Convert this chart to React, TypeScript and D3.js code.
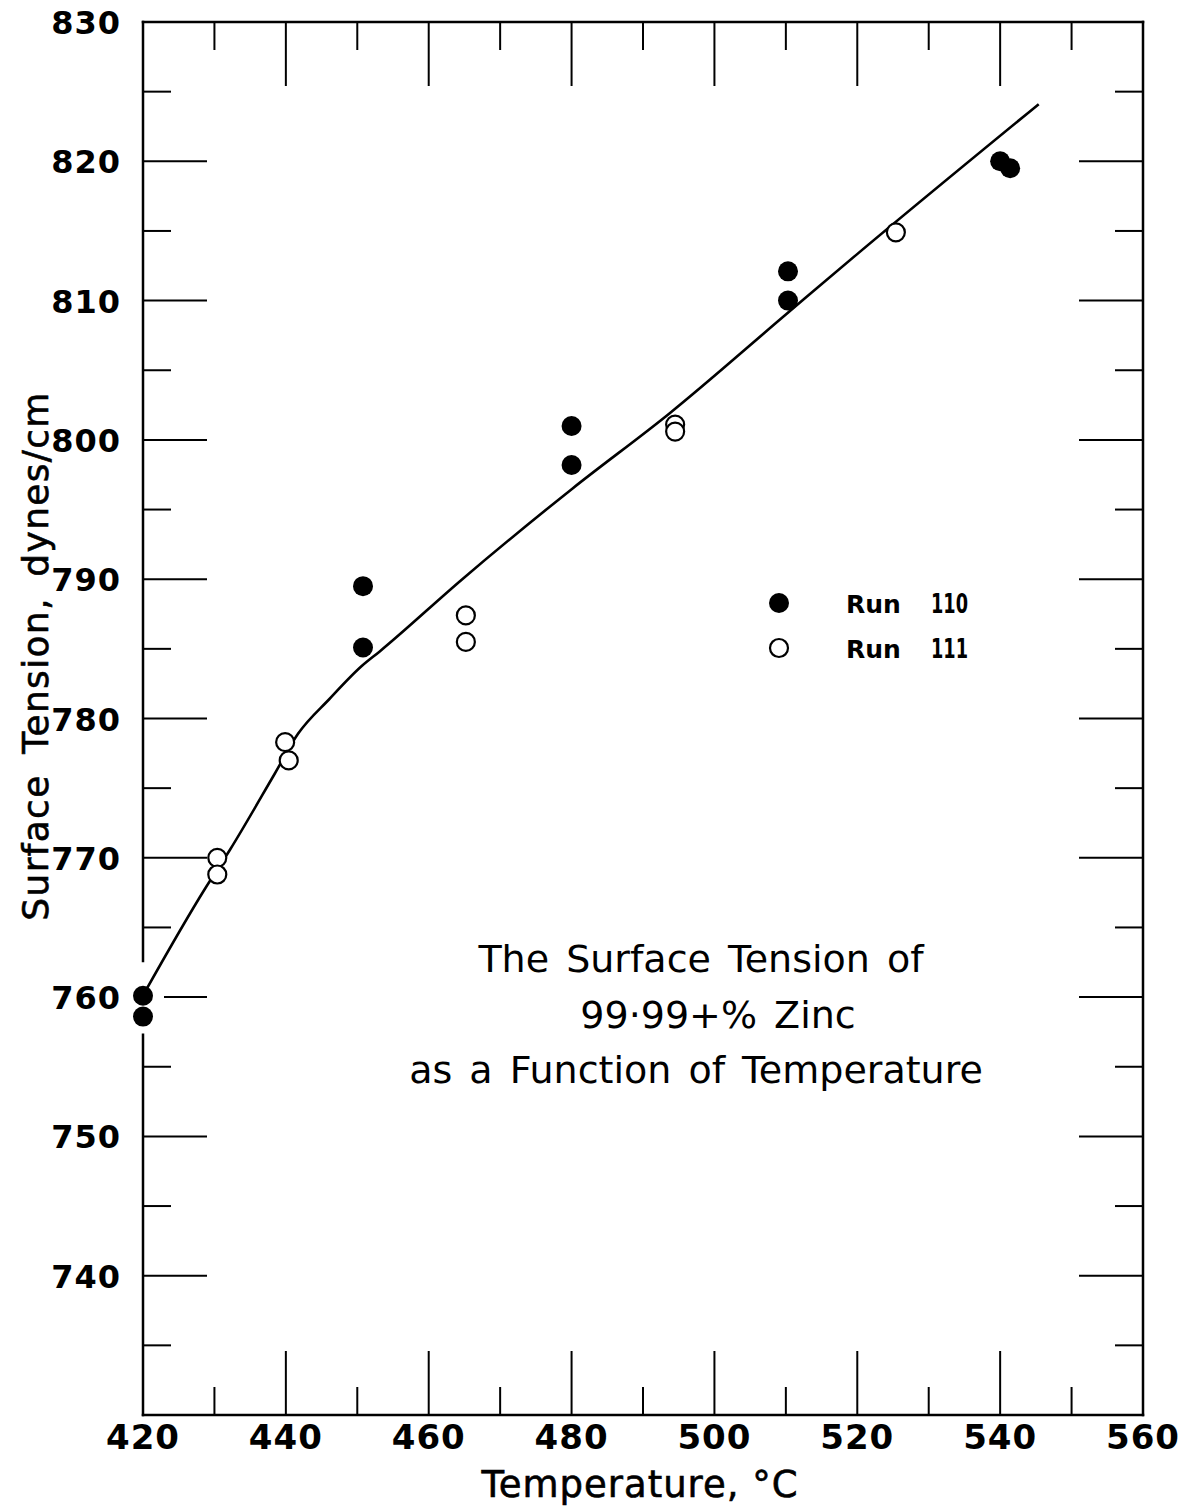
import React from "react";
import * as d3 from "d3";

// values
const run110Temp = [420, 420, 450.8, 450.8, 480, 480, 510.3, 510.3, 540, 541.4];
const run110Tension = [760.1, 758.6, 789.5, 785.1, 801.0, 798.2, 812.1, 810.0, 820.0, 819.5];

const run111Temp = [430.4, 430.4, 439.9, 440.4, 465.2, 465.2, 494.5, 494.5, 525.4];
const run111Tension = [770.0, 768.8, 778.3, 777.0, 787.4, 785.5, 801.1, 800.6, 814.9];

// hand-drawn fitted curve
const fitTemp = [420.3, 428.7, 432.2, 438.4, 441.7, 446.1, 450.7, 453.1, 464.7, 480.1, 493.7, 510.0, 519.9, 545.4];
const fitTension = [760.4, 767.8, 770.6, 776.0, 778.9, 781.4, 783.8, 784.8, 790.0, 796.5, 801.9, 809.0, 813.3, 824.1];

const xTickLabels = [420, 440, 460, 480, 500, 520, 540, 560];
const yTickLabels = [740, 750, 760, 770, 780, 790, 800, 810, 820, 830];

const legendItems = [
  { label: "110", filled: true },
  { label: "111", filled: false },
];

const titleLines = ["The Surface Tension of", "99·99+% Zinc", "as a Function of Temperature"];

const W = 1181;
const H = 1510;
const left = 143;
const right = 1143;
const top = 22;
const bottom = 1415;
const MAJOR = 63;
const MINOR = 27;
const R = 10;

export default function App() {
  const x = d3.scaleLinear().domain([420, 560]).range([left, right]);
  const y = d3.scaleLinear().domain([730, 830]).range([bottom, top]);

  const xMinor = d3.range(420, 561, 10);
  const yMinor = d3.range(730, 831, 5);

  const fit = d3
    .line<number>()
    .x((d) => x(fitTemp[d]))
    .y((d) => y(fitTension[d]))
    .curve(d3.curveMonotoneX)(fitTemp.map((_, i) => i));

  // the scan leaves the left frame broken behind the 760 label
  const gapLo = 757.3;
  const gapHi = 762.6;

  const font = "'DejaVu Sans', Verdana, sans-serif";

  return (
    <svg
      width={W}
      height={H}
      style={{ position: "absolute", left: 0, top: 0, background: "#fff" }}
      fontFamily={font}
    >
      <g stroke="#000" fill="none" strokeLinecap="square">
        <line x1={left} x2={right} y1={top} y2={top} strokeWidth={2.5} />
        <line x1={left} x2={right} y1={bottom} y2={bottom} strokeWidth={2.5} />
        <line x1={right} x2={right} y1={top} y2={bottom} strokeWidth={2.5} />
        <line x1={left} x2={left} y1={top} y2={y(gapHi)} strokeWidth={2.5} />
        <line x1={left} x2={left} y1={y(gapLo)} y2={bottom} strokeWidth={2.5} />

        {xMinor
          .filter((t) => t > 420 && t < 560)
          .map((t) => {
            const len = t % 20 === 0 ? MAJOR : MINOR;
            return (
              <g key={"xt" + t} strokeWidth={2}>
                <line x1={x(t)} x2={x(t)} y1={bottom} y2={bottom - len} />
                <line x1={x(t)} x2={x(t)} y1={top} y2={top + len} />
              </g>
            );
          })}
        {yMinor
          .filter((v) => v > 730 && v < 830)
          .map((v) => {
            const len = v % 10 === 0 ? MAJOR : MINOR;
            const start = v === 760 ? left + 22 : left;
            return (
              <g key={"yt" + v} strokeWidth={2}>
                <line x1={start} x2={left + len} y1={y(v)} y2={y(v)} />
                <line x1={right} x2={right - len} y1={y(v)} y2={y(v)} />
              </g>
            );
          })}
      </g>

      <g fontSize={34} fontWeight="bold" fill="#000">
        {xTickLabels.map((t) => (
          <text key={"xl" + t} x={x(t)} y={1449} textAnchor="middle" letterSpacing={1}>
            {t}
          </text>
        ))}
      </g>
      <g fontSize={32} fontWeight="bold" fill="#000">
        {yTickLabels.map((v) => (
          <text key={"yl" + v} x={121} y={y(v) + 12} textAnchor="end" letterSpacing={1}>
            {v}
          </text>
        ))}
      </g>

      <text x={640} y={1497} fontSize={37} textAnchor="middle" fill="#000" letterSpacing={1} stroke="#000" strokeWidth={0.6}>
        Temperature, °C
      </text>
      <text
        transform={`translate(48, 656) rotate(-90)`}
        fontSize={36}
        textAnchor="middle"
        fill="#000"
        letterSpacing={1.3}
        wordSpacing={8}
        stroke="#000"
        strokeWidth={0.6}
      >
        Surface Tension, dynes/cm
      </text>

      <path d={fit || ""} fill="none" stroke="#000" strokeWidth={2.6} />

      {run111Temp.map((t, i) => (
        <circle key={"o" + i} cx={x(t)} cy={y(run111Tension[i])} r={R - 1} fill="#fff" stroke="#000" strokeWidth={2.2} />
      ))}
      {run110Temp.map((t, i) => (
        <circle key={"f" + i} cx={x(t)} cy={y(run110Tension[i])} r={R} fill="#000" />
      ))}

      <g fill="#000">
        {legendItems.map((d, i) => (
          <g key={d.label} transform={`translate(779, ${603 + i * 45})`}>
            <circle r={d.filled ? R : R - 1} fill={d.filled ? "#000" : "#fff"} stroke="#000" strokeWidth={d.filled ? 0 : 2.2} />
            <text x={67} y={10} fontSize={25} fontWeight="bold">
              Run
            </text>
            <text x={152} y={10} fontSize={27} fontWeight="bold" textLength={37} lengthAdjust="spacingAndGlyphs">
              {d.label}
            </text>
          </g>
        ))}
      </g>

      <g fontSize={38} fill="#000" textAnchor="middle" wordSpacing={5}>
        {titleLines.map((s, i) => (
          <text key={s} x={[701, 718, 696][i]} y={972 + i * 55.5}>
            {s}
          </text>
        ))}
      </g>
    </svg>
  );
}
